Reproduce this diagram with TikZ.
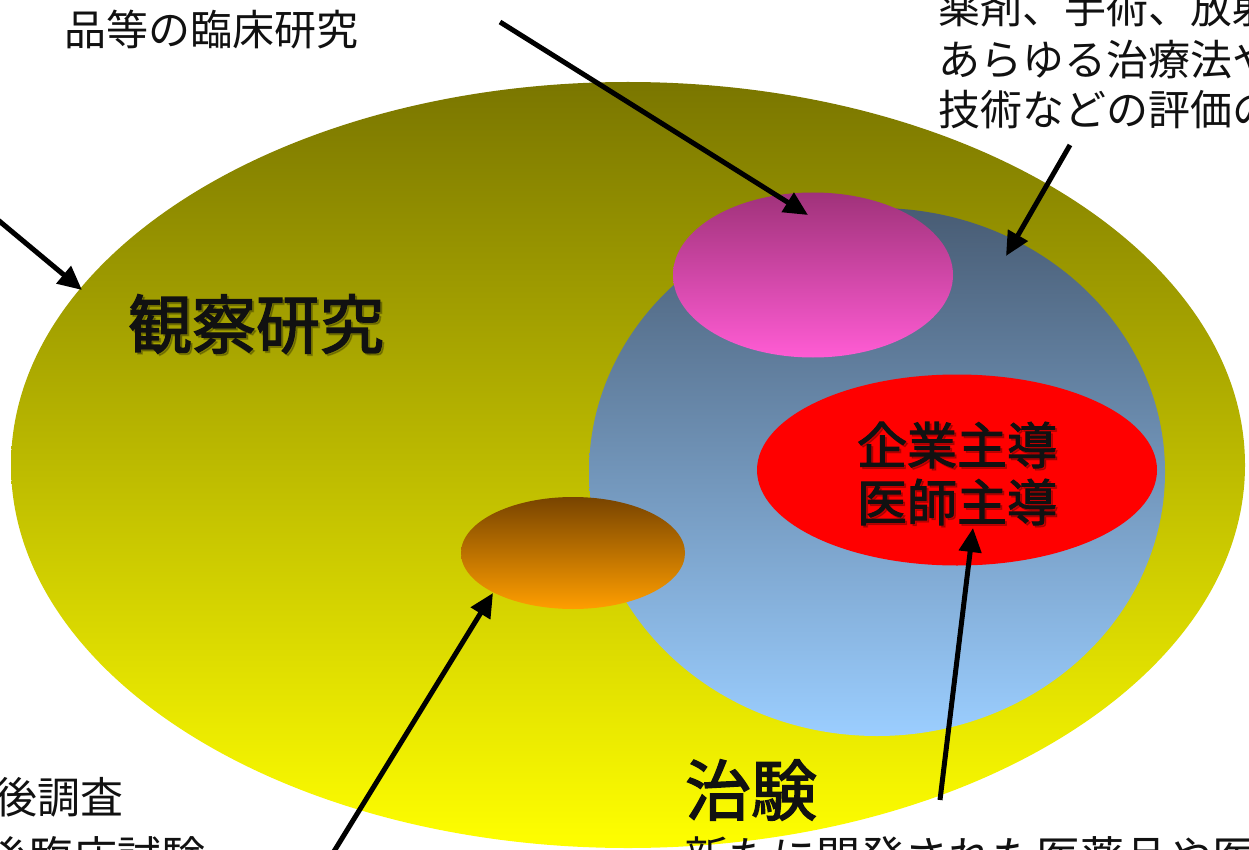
\documentclass[tikz,border=0pt]{standalone}
\usepackage{fontspec}
\newfontfamily\jp{Noto Sans CJK JP}
\newfontfamily\jpm{Noto Sans CJK JP}[FakeBold=2.2]
\usetikzlibrary{shapes.geometric,arrows.meta}
\definecolor{oliveTop}{RGB}{122,118,0}
\definecolor{yellowBot}{RGB}{255,255,0}
\definecolor{blueTop}{RGB}{72,92,116}
\definecolor{blueBot}{RGB}{155,206,255}
\definecolor{pinkTop}{RGB}{160,50,122}
\definecolor{pinkBot}{RGB}{255,92,212}
\definecolor{orTop}{RGB}{120,68,0}
\definecolor{orBot}{RGB}{255,158,0}
\definecolor{ink}{RGB}{17,17,17}
\begin{document}
\begin{tikzpicture}[x=1pt,y=-1pt,
  blob/.style={ellipse, draw=none, inner sep=0pt},
  arr/.style={line width=5pt, -{Triangle[length=24pt,width=22pt]}},
  note/.style={font=\jp\fontsize{42}{48}\selectfont, inner sep=0pt, text=ink},
  lbl/.style={font=\jpm\fontsize{#1}{#1}\selectfont, inner sep=0pt, text=ink},
  shd/.style={font=\jpm\fontsize{#1}{#1}\selectfont, inner sep=0pt, text=black, opacity=0.22},
]
\path[use as bounding box, clip] (0,0) rectangle (1249,850);

% regions
\node[blob, minimum width=1234pt, minimum height=766pt, top color=oliveTop, bottom color=yellowBot] (obs) at (628,465) {};
\node[blob, minimum width=576pt, minimum height=528pt, top color=blueTop, bottom color=blueBot] (clin) at (877,472) {};
\node[blob, minimum width=280pt, minimum height=165pt, top color=pinkTop, bottom color=pinkBot] (pink) at (813,275) {};
\node[blob, minimum width=400pt, minimum height=191pt, fill=red] (trial) at (957,470) {};
\node[blob, minimum width=224pt, minimum height=112pt, top color=orTop, bottom color=orBot] (post) at (573,553) {};

% labels with soft shadow
\node[shd=64] (obsS) at (258,326) {観察研究};
\node[lbl=64] (obsL) at (256,324) {観察研究};
\node[shd=50] (t1S) at (959,447) {企業主導};
\node[lbl=50] (t1L) at (957,445) {企業主導};
\node[shd=50] (t2S) at (959,504) {医師主導};
\node[lbl=50] (t2L) at (957,502) {医師主導};
\node[lbl=66] (chiken) at (751,790) {治験};

% annotations
\node[note, anchor=west] (nPink) at (64,30) {品等の臨床研究};
\node[note, anchor=west] (nTR1) at (938,8) {薬剤、手術、放射線};
\node[note, anchor=west] (nTR2) at (938,60) {あらゆる治療法や};
\node[note, anchor=west] (nTR3) at (938,110) {技術などの評価の};
\node[note, anchor=west, font=\jp\fontsize{43}{48}\selectfont] (nBL1) at (-6,797) {後調査};
\node[note, anchor=west, font=\jp\fontsize{44}{48}\selectfont] (nBL2) at (-15,857) {後臨床試験};
\node[note, anchor=west, font=\jp\fontsize{44}{48}\selectfont] (nBot) at (684,857) {新たに開発された医薬品や医療};

% arrows
\coordinate (s1) at (500,22);   \coordinate (e1) at (808,215);
\coordinate (s2) at (1070,145); \coordinate (e2) at (1006,256);
\coordinate (s3) at (-20,205);  \coordinate (e3) at (82,290);
\coordinate (s4) at (333,853);  \coordinate (e4) at (493,593);
\coordinate (s5) at (940,800);  \coordinate (e5) at (973,528);
\draw[arr] (s1) -- (e1);
\draw[arr] (s2) -- (e2);
\draw[arr] (s3) -- (e3);
\draw[arr] (s4) -- (e4);
\draw[arr] (s5) -- (e5);
\end{tikzpicture}
\end{document}
